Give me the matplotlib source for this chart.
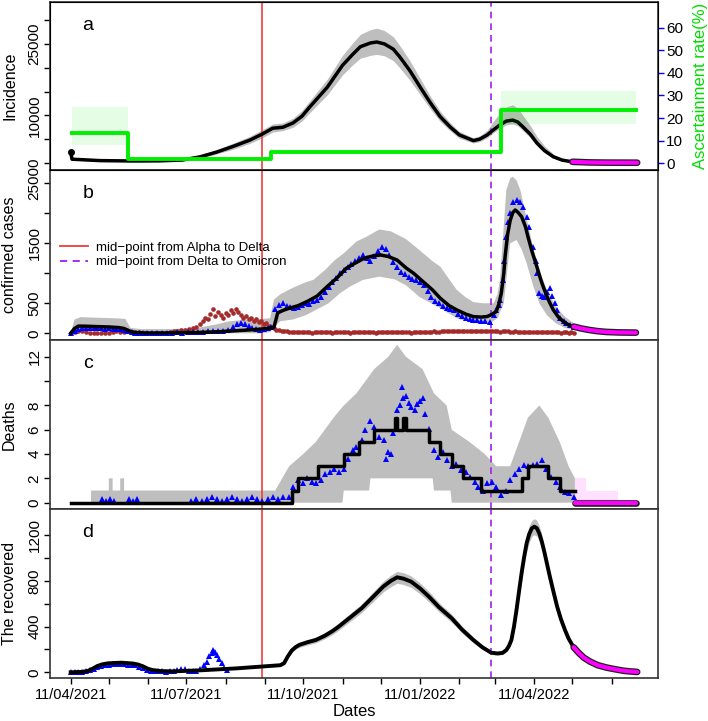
import matplotlib.pyplot as plt
import numpy as np
import pandas as pd
from matplotlib import patheffects
from matplotlib.lines import Line2D

plt.rcParams['font.family'] = ['Liberation Sans', 'DejaVu Sans']

# ---- data (x = days since 11/04/2021) ----
start_date = '2021-04-11'
alpha_delta = 151
delta_omicron = 331

# a: incidence
a_day = [0, 1, 23, 49, 70, 88, 102, 115, 128, 141, 151, 159, 167, 175, 182, 188, 195, 202, 214, 222,
         228, 236, 241, 247, 254, 259, 267, 275, 283, 291, 299, 306, 317, 322, 328, 332, 338, 343, 348, 352,
         356, 362, 367, 373, 380, 387, 395]
a_mid = [2300, 800, 500, 420, 450, 630, 1300, 2300, 3500, 4800, 6100, 7300, 7500, 8400, 9800, 11700, 13800, 15900, 20500, 22800,
         24400, 25200, 25400, 25000, 23900, 22300, 19400, 16000, 12700, 9700, 7500, 5900, 4700, 5000, 5900, 6800, 8000, 8800, 9000, 8600,
         7600, 6000, 4200, 2600, 1300, 600, 250]
a_lo = [600, 600, 350, 300, 300, 450, 1000, 1900, 2900, 4100, 5300, 6500, 6800, 7500, 8800, 10500, 12400, 14300, 18500, 20600,
        22000, 22600, 22800, 22500, 21500, 20000, 17400, 14400, 11400, 8700, 6700, 5200, 4200, 4500, 5300, 6200, 7300, 8000, 8200, 7800,
        6800, 5300, 3700, 2200, 1100, 450, 180]
a_hi = [1000, 1000, 700, 600, 650, 850, 1650, 2800, 4200, 5600, 7000, 8200, 8400, 9400, 11000, 13000, 15300, 17600, 22600, 25200,
        27000, 28000, 28300, 27800, 26500, 24700, 21500, 17800, 14100, 10800, 8400, 6600, 5300, 5700, 6900, 8500, 10500, 11800, 12200, 11500,
        10000, 7800, 5600, 3600, 1900, 900, 400]
a_fc_day = [395, 409, 421, 446]
a_fc = [250, 120, 80, 60]

# ascertainment rate (%)
asc_day = [1, 45, 158, 339, 445]
asc_rate = [13.2, 1.8, 5.0, 23.6, 23.6]
asc_lo = [8.1, 1.5, 4.6, 17.4]
asc_hi = [25.0, 2.1, 5.4, 32.1]

# b: confirmed cases
b_day = [0, 3, 6, 12, 20, 30, 38, 42, 46, 50, 60, 75, 90, 102, 115, 128, 140, 150, 156, 160,
         163, 167, 172, 179, 186, 194, 202, 210, 217, 224, 231, 238, 244, 250, 257, 264, 270, 278, 285, 291,
         298, 304, 311, 317, 323, 328, 332, 335, 337, 339, 341, 342, 344, 346, 348, 350, 352, 355, 358, 360,
         363, 367, 370, 372, 376, 380, 384, 388, 392, 396]
b_mid = [0, 80, 120, 118, 112, 105, 95, 80, 40, 12, 5, 5, 10, 15, 25, 40, 55, 70, 85, 100,
         340, 380, 417, 460, 528, 620, 780, 930, 1083, 1170, 1250, 1290, 1305, 1280, 1220, 1090, 1000, 850, 720, 583,
         460, 389, 320, 278, 270, 280, 320, 361, 480, 666, 1000, 1278, 1650, 1880, 2010, 2055, 2020, 1944, 1780, 1611,
         1380, 1111, 900, 778, 560, 389, 270, 194, 140, 111]
b_hi_day = [0, 3, 8, 20, 35, 43, 47, 55, 80, 100, 115, 125, 140, 150, 157, 160, 165, 175, 185, 191,
            200, 208, 215, 225, 233, 243, 252, 264, 275, 285, 291, 298, 304, 311, 317, 325, 333, 336, 338, 340,
            343, 346, 348, 351, 354, 357, 361, 365, 369, 375, 382, 389, 396]
b_hi = [0, 230, 270, 260, 250, 240, 90, 70, 70, 90, 150, 200, 230, 240, 250, 560, 650, 760, 850, 890,
        1050, 1220, 1333, 1530, 1611, 1730, 1700, 1570, 1380, 1200, 1111, 900, 722, 600, 520, 500, 500, 650, 889, 1500,
        2389, 2580, 2611, 2550, 2389, 2100, 1722, 1350, 1055, 720, 444, 280, 167]
b_lo_day = [0, 6, 20, 40, 46, 150, 157, 160, 165, 175, 185, 194, 203, 212, 220, 230, 243, 255, 264, 275,
            291, 304, 317, 330, 336, 341, 344, 346, 351, 355, 359, 364, 369, 375, 382, 389, 396]
b_lo = [0, 60, 50, 40, 0, 0, 20, 100, 200, 230, 300, 400, 500, 667, 780, 889, 944, 900, 800, 600,
        417, 250, 167, 167, 250, 500, 1100, 1500, 1555, 1400, 1167, 800, 500, 300, 167, 90, 56]
b_obs_day = [0, 3, 6, 9, 12, 15, 18, 21, 24, 27, 30, 33, 36, 39, 42, 45, 48, 51, 54, 57,
             60, 64, 68, 72, 76, 80, 84, 88, 92, 96, 100, 104, 108, 112, 116, 120, 124, 128,
             131, 134, 137, 140, 143, 146, 149, 152, 155, 158,
             161, 164, 167, 170, 173, 176, 179, 182, 185, 188, 191, 194, 197, 200, 203, 206, 209, 212, 215, 218,
             221, 224, 227, 230, 233, 236, 239, 242, 245, 248, 251, 254, 257, 260, 263, 266, 269, 272, 275, 278,
             281, 284, 287, 290, 293, 296, 299, 302, 305, 308, 311, 314, 317, 320, 323, 326,
             330, 333, 335, 337, 338, 340, 341, 343, 344, 346, 348, 351, 354, 356, 359, 361, 364, 366, 367, 369,
             371, 373, 375, 377, 379, 381, 383, 385, 388, 390, 393, 396]
b_obs = [0, 30, 70, 85, 90, 85, 90, 80, 85, 75, 80, 70, 70, 75, 60, 30, 15, 8, 5, 5,
         8, 10, 12, 10, 8, 10, 15, 12, 15, 20, 25, 20, 30, 35, 40, 45, 60, 100,
         150, 170, 160, 120, 90, 70, 60, 70, 80, 110,
         400, 470, 500, 460, 440, 420, 440, 470, 500, 490, 530, 560, 610, 680, 770, 850, 920, 1000, 1060, 1110,
         1160, 1210, 1260, 1300, 1250, 1200, 1280, 1380, 1440, 1400, 1300, 1180, 1100, 1020, 980, 944, 900, 880, 861, 800,
         700, 600, 540, 500, 450, 420, 400, 380, 320, 290, 260, 240, 222, 215, 210, 200,
         194, 300, 389, 470, 555, 889, 1200, 1611, 1850, 1999, 2194, 2222, 2194, 2111, 1944, 1778, 1444, 1200, 1000, 666,
         620, 611, 680, 750, 620, 500, 380, 250, 200, 167, 130, 111]
brown_day = [0, 3, 6, 9, 12, 15, 18, 21, 24, 27, 30, 33, 36, 39, 42, 45, 48, 51, 54, 57,
             60, 63, 66, 69, 72, 75, 78, 81, 84, 87, 90, 93, 96, 99, 102,
             104, 106, 108, 110, 112, 114, 116, 118, 120, 122, 124, 126, 128, 130, 132, 134, 136, 138, 140, 142,
             144, 146, 148, 150, 152, 154, 156, 158, 160, 162, 164, 166, 168] + list(range(170, 397, 2))
brown = [0, 15, 35, 40, 25, 10, 5, 0, 5, 0, 10, 20, 30, 25, 20, 30, 25, 15, 20, 10,
         5, 10, 0, 5, 10, 5, 15, 30, 45, 60, 55, 70, 90, 110, 150,
         200, 260, 230, 320, 400, 290, 350, 300, 260, 340, 300, 380, 330, 400, 360, 300, 250, 280, 230, 260,
         200, 240, 180, 210, 150, 170, 120, 100, 80, 60, 50, 40, 30,
         30, 25, 20, 22, 18, 25, 15, 20, 22, 18, 12, 20, 25, 15, 18, 20, 22, 15, 12, 18,
         20, 25, 18, 15, 20, 12, 15, 22, 18, 20, 15, 20, 25, 18, 15, 12, 18, 20, 22, 15,
         20, 18, 25, 20, 15, 18, 22, 20, 15, 12, 18, 20, 25, 22, 18, 15, 20, 25, 30, 25,
         28, 32, 30, 35, 30, 38, 35, 40, 32, 35, 30, 38, 42, 35, 30, 35, 40, 32, 30, 35,
         38, 30, 35, 32, 28, 30, 35, 30, 25, 28, 30, 25, 22, 25, 20, 25, 22, 18, 20, 22,
         18, 15, 20, 18, 15, 20, 18, 15, 12, 18, 15, 12, 15, 10]
b_fc_day = [396, 402, 408, 415, 422, 432, 445]
b_fc = [111, 80, 56, 35, 22, 14, 11]

# c: deaths
c_step_day = [0, 174, 179, 195, 215, 227, 239, 255, 257, 262, 264, 282, 291, 300, 309, 323, 355, 360, 376, 385, 397]
c_step = [0, 1, 2, 3, 4, 5, 6, 7, 6, 7, 6, 5, 4, 3, 2, 1, 2, 3, 2, 1, 1]
c_hi_day = [0, 16, 16, 30, 30, 33, 33, 39, 39, 42, 42, 161, 172, 183, 193, 200, 207, 215, 225, 239,
            250, 257, 264, 277, 286, 296, 300, 314, 326, 335, 346, 353, 360, 369, 376, 385, 392, 397]
c_hi = [0, 0, 1, 1, 2, 2, 1, 1, 2, 2, 1, 1, 3, 4, 5, 6, 7, 8, 9, 11,
        12, 13, 12, 11, 9, 8, 6, 5, 4, 3, 3, 5, 7, 8, 7, 5, 3, 2]
c_lo_day = [0, 214, 215, 235, 236, 285, 286, 299, 300, 397]
c_lo = [0, 0, 1, 1, 2, 2, 1, 1, 0, 0]
c_obs_day = [25, 28, 31, 34, 46, 49, 52, 95, 99, 103, 107, 111, 115, 119, 123, 127, 131, 135, 139, 143,
             147, 151, 155, 159, 163, 167,
             172, 175, 179, 183, 186, 190, 193, 197, 200, 204, 207, 211, 215, 218, 222, 225, 229, 232, 236, 239,
             243, 247, 250, 254, 257, 261, 264, 268, 271, 275, 279, 282, 286, 289, 293, 296, 300, 303, 307, 311,
             314, 318, 321, 325, 328, 332, 335, 339, 343, 346, 350, 353, 357, 360, 364, 367, 371, 374, 378, 382,
             385, 389, 392, 396, 248, 252, 259, 262, 266, 273, 277]
c_obs = [0.3, 0.15, 0.3, 0.15, 0.3, 0.15, 0.3, 0.15, 0.3, 0.15, 0.3, 0.45, 0.3, 0.15, 0.3, 0.45, 0.3, 0.15, 0.3, 0.45,
         0.3, 0.15, 0.3, 0.45, 0.3, 0.45,
         0.5, 1.3, 1.9, 1.6, 2.0, 1.7, 1.6, 1.9, 2.4, 2.5, 2.8, 2.5, 2.8, 3.6, 4.3, 4.6, 5.2, 6.0, 6.7, 6.2,
         5.4, 5.2, 4.2, 5.7, 7.6, 9.5, 8.8, 7.9, 7.6, 8.4, 7.3, 6.1, 4.3, 3.8, 4.2, 3.5, 3.0, 3.2, 2.7, 2.5,
         2.1, 1.7, 1.3, 1.0, 1.6, 1.7, 1.3, 0.6, 1.0, 1.9, 2.4, 2.8, 3.1, 3.0, 3.1, 3.2, 3.5, 2.8, 2.1, 1.7,
         1.3, 0.9, 0.8, 0.5, 3.6, 4.0, 8.0, 8.6, 8.2, 8.1, 8.6]
c_fc_day = [397, 445]
c_fc = [0, 0]
c_fc_band_day = [397, 406, 406, 431]
c_fc_band_hi = [2, 2, 1, 1]

# d: recovered
d_day = [0, 8, 13, 17, 21, 25, 29, 35, 40, 45, 49, 53, 57, 61, 65, 72, 80, 90, 100, 110,
         120, 130, 140, 150, 160, 165, 168, 171, 174, 177, 180, 186, 193, 200, 206, 211, 220, 229, 238, 246,
         252, 257, 262, 268, 275, 282, 290, 300, 308, 317, 324, 331, 336, 340, 343, 345, 347, 349, 351, 353,
         355, 357, 359, 361, 363, 365, 367, 369, 371, 373, 375, 377, 380, 383, 386, 389, 392, 396]
d_mid = [0, 3, 10, 30, 55, 70, 78, 82, 84, 80, 77, 68, 52, 30, 18, 10, 8, 12, 16, 22,
         28, 34, 42, 50, 58, 62, 80, 140, 190, 220, 240, 262, 283, 320, 360, 400, 480, 560, 660, 750,
         800, 832, 820, 794, 735, 663, 570, 473, 375, 283, 220, 172, 165, 170, 195, 230, 283, 400, 546, 710,
         869, 1010, 1132, 1210, 1260, 1275, 1262, 1215, 1140, 1050, 950, 850, 710, 575, 465, 375, 295, 219]
d_hw = [3, 4, 6, 10, 14, 16, 18, 18, 18, 16, 15, 14, 12, 10, 8, 6, 5, 5, 5, 6,
        6, 7, 8, 9, 10, 10, 12, 15, 18, 20, 22, 24, 25, 27, 30, 32, 35, 38, 42, 46,
        50, 52, 52, 50, 48, 45, 40, 35, 30, 25, 20, 17, 15, 15, 16, 20, 25, 35, 45, 55,
        65, 70, 75, 75, 70, 70, 70, 65, 60, 55, 50, 45, 40, 35, 30, 25, 20, 15]
d_obs_day = [0, 3, 6, 9, 12, 15, 18, 21, 24, 27, 30, 33, 36, 39, 42, 45, 48, 51, 54, 57,
             60, 63, 66, 69, 72, 75, 78, 81, 84, 87, 90, 93, 96, 99, 102, 105,
             107, 109, 111, 112, 114, 115, 117, 119, 121, 123]
d_obs = [0, 2, 3, 5, 10, 20, 30, 42, 55, 62, 68, 72, 70, 72, 75, 68, 64, 60, 50, 35,
         20, 12, 10, 8, 8, 6, 8, 10, 20, 30, 25, 15, 12, 15, 30, 60,
         90, 140, 170, 195, 175, 150, 120, 80, 40, 20]
d_fc_day = [396, 400, 404, 409, 415, 422, 428, 435, 440, 446]
d_fc = [219, 170, 128, 93, 62, 41, 28, 14, 8, 3]

# ---- colours ----
grey = '#bebebe'
blue = '#0000ff'
brown_c = '#a52a2a'
magenta = '#ff00ff'
green = '#00ee00'
red = '#f03c3c'
purple = '#a020f0'

fig = plt.figure(figsize=(7.08, 7.21), dpi=100)
L, W = 50/708, 608/708
ax_a = fig.add_axes([L, 1-170/721, W, 168/721])
ax_b = fig.add_axes([L, 1-340/721, W, 170/721])
ax_c = fig.add_axes([L, 1-509/721, W, 169/721])
ax_d = fig.add_axes([L, 1-678/721, W, 169/721])

mag_pe = [patheffects.Stroke(linewidth=4.8, foreground='#202020'), patheffects.Normal()]


def style(ax, ylim, yticks, ylabels, ylabel, letter):
    ax.set_xlim(-16.3, 462.4)
    ax.set_ylim(*ylim)
    ax.set_yticks(yticks)
    ax.set_yticklabels(ylabels, rotation=90, va='center')
    ax.tick_params(axis='y', length=4.5, width=1, pad=1.5, labelsize=11)
    ax.set_ylabel(ylabel, fontsize=11.5)
    ax.yaxis.set_label_coords(-0.054, 0.5)
    for s in ax.spines.values():
        s.set_linewidth(1.2)
        s.set_color('#333333')
    ax.axvline(alpha_delta, color=red, lw=1.2, zorder=1.5)
    ax.axvline(delta_omicron, color=purple, lw=1.2, ls=(0, (4, 3)), zorder=1.5)
    ax.text(0.0625, 0.86, letter, transform=ax.transAxes, fontsize=14, ha='center', va='center')


# panel a
ax_a.fill_between(a_day, a_lo, a_hi, color=grey, lw=0, zorder=1)
ax_a.plot(a_day, a_mid, color='black', lw=2.5, zorder=3)
ax_a.plot(a_day[0], a_mid[0], 'o', color='black', ms=4, zorder=3)
ax_a.plot(a_fc_day, a_fc, color=magenta, lw=3, zorder=3.5, path_effects=mag_pe, solid_capstyle='round')
style(ax_a, (-1470, 33800), np.arange(0, 30001, 5000),
      ['0', '', '10000', '', '', '25000', ''], 'Incidence', 'a')
ax_a.set_xticks([])

ax_r = ax_a.twinx()
for i in range(len(asc_lo)):
    ax_r.fill_between(asc_day[i:i+2], asc_lo[i], asc_hi[i], color=green, alpha=0.1, lw=0)
ax_r.step(asc_day, asc_rate, where='post', color=green, lw=2.8)
ax_r.set_xlim(-16.3, 462.4)
ax_r.set_ylim(-3.0, 71.4)
ax_r.set_yticks(np.arange(0, 61, 10))
ax_r.tick_params(axis='y', length=4.5, width=1, color=blue, labelsize=11, pad=1.5)
ax_r.set_ylabel('Ascertainment rate(%)', color='#00dd00', fontsize=12)
ax_r.yaxis.set_label_coords(1.058, 0.5)
ax_r.set_xticks([])

# panel b
ax_b.fill(np.r_[b_hi_day, b_lo_day[::-1]], np.r_[b_hi, b_lo[::-1]], color=grey, lw=0, zorder=1)
ax_b.plot(brown_day, brown, 'o', color=brown_c, ms=3.3, mew=0, zorder=2)
ax_b.plot(b_obs_day, b_obs, '^', color=blue, ms=5, mew=0, zorder=2.5)
ax_b.plot(b_day, b_mid, color='black', lw=2.5, zorder=3)
ax_b.plot(b_fc_day, b_fc, color=magenta, lw=3, zorder=3.5, path_effects=mag_pe, solid_capstyle='round')
style(ax_b, (-112, 2722), np.arange(0, 2501, 500),
      ['0', '500', '', '1500', '', '2500'], 'confirmed cases', 'b')
ax_b.set_xticks([])
handles = [Line2D([], [], color=red, lw=1.3),
           Line2D([], [], color=purple, lw=1.3, ls=(0, (4, 3)))]
ax_b.legend(handles, ['mid\u2212point from Alpha to Delta', 'mid\u2212point from Delta to Omicron'],
            loc='center left', bbox_to_anchor=(0.0164, 0.5), frameon=False, fontsize=9.5,
            handlelength=2.1, handletextpad=0.6, labelspacing=0.15, borderpad=0, borderaxespad=0)

# panel c
ax_c.fill(np.r_[c_hi_day, c_lo_day[::-1]], np.r_[c_hi, c_lo[::-1]], color=grey, lw=0, zorder=1)
ax_c.fill_between(c_fc_band_day, 0, c_fc_band_hi, color=magenta, alpha=0.12, lw=0, zorder=1)
ax_c.plot(c_obs_day, c_obs, '^', color=blue, ms=5, mew=0, zorder=2.5)
ax_c.step(c_step_day, c_step, where='post', color='black', lw=2.5, zorder=3)
ax_c.plot(c_fc_day, c_fc, color=magenta, lw=3, zorder=3.5, path_effects=mag_pe, solid_capstyle='round')
style(ax_c, (-0.52, 13.39), np.arange(0, 13, 2),
      ['0', '2', '4', '6', '8', '', '12'], 'Deaths', 'c')
ax_c.set_xticks([])

# panel d
d_mid_a = np.array(d_mid)
d_hw_a = np.array(d_hw)
ax_d.fill_between(d_day, d_mid_a - d_hw_a, d_mid_a + d_hw_a, color=grey, lw=0, zorder=1)
ax_d.plot(d_obs_day, d_obs, '^', color=blue, ms=5, mew=0, zorder=2.5)
ax_d.plot(d_day, d_mid, color='black', lw=2.8, zorder=3)
ax_d.plot(d_fc_day, d_fc, color=magenta, lw=3, zorder=3.5, path_effects=mag_pe, solid_capstyle='round')
style(ax_d, (-50, 1430), np.arange(0, 1201, 200),
      ['0', '', '400', '', '800', '', '1200'], 'The recovered', 'd')

# monthly date ticks (11th of each month), label every third
months = pd.date_range('2021-04-01', '2022-06-01', freq='MS') + pd.Timedelta(days=10)
tick_days = (months - pd.Timestamp(start_date)).days
tick_labels = [m.strftime('%d/%m/%Y') if i % 3 == 0 else '' for i, m in enumerate(months)]
ax_d.set_xticks(tick_days)
ax_d.set_xticklabels(tick_labels)
ax_d.tick_params(axis='x', length=4.5, width=1, labelsize=10.5, pad=2.5)
ax_d.set_xlabel('Dates', fontsize=12, labelpad=1.5)

fig.savefig('out.png', dpi=100)
